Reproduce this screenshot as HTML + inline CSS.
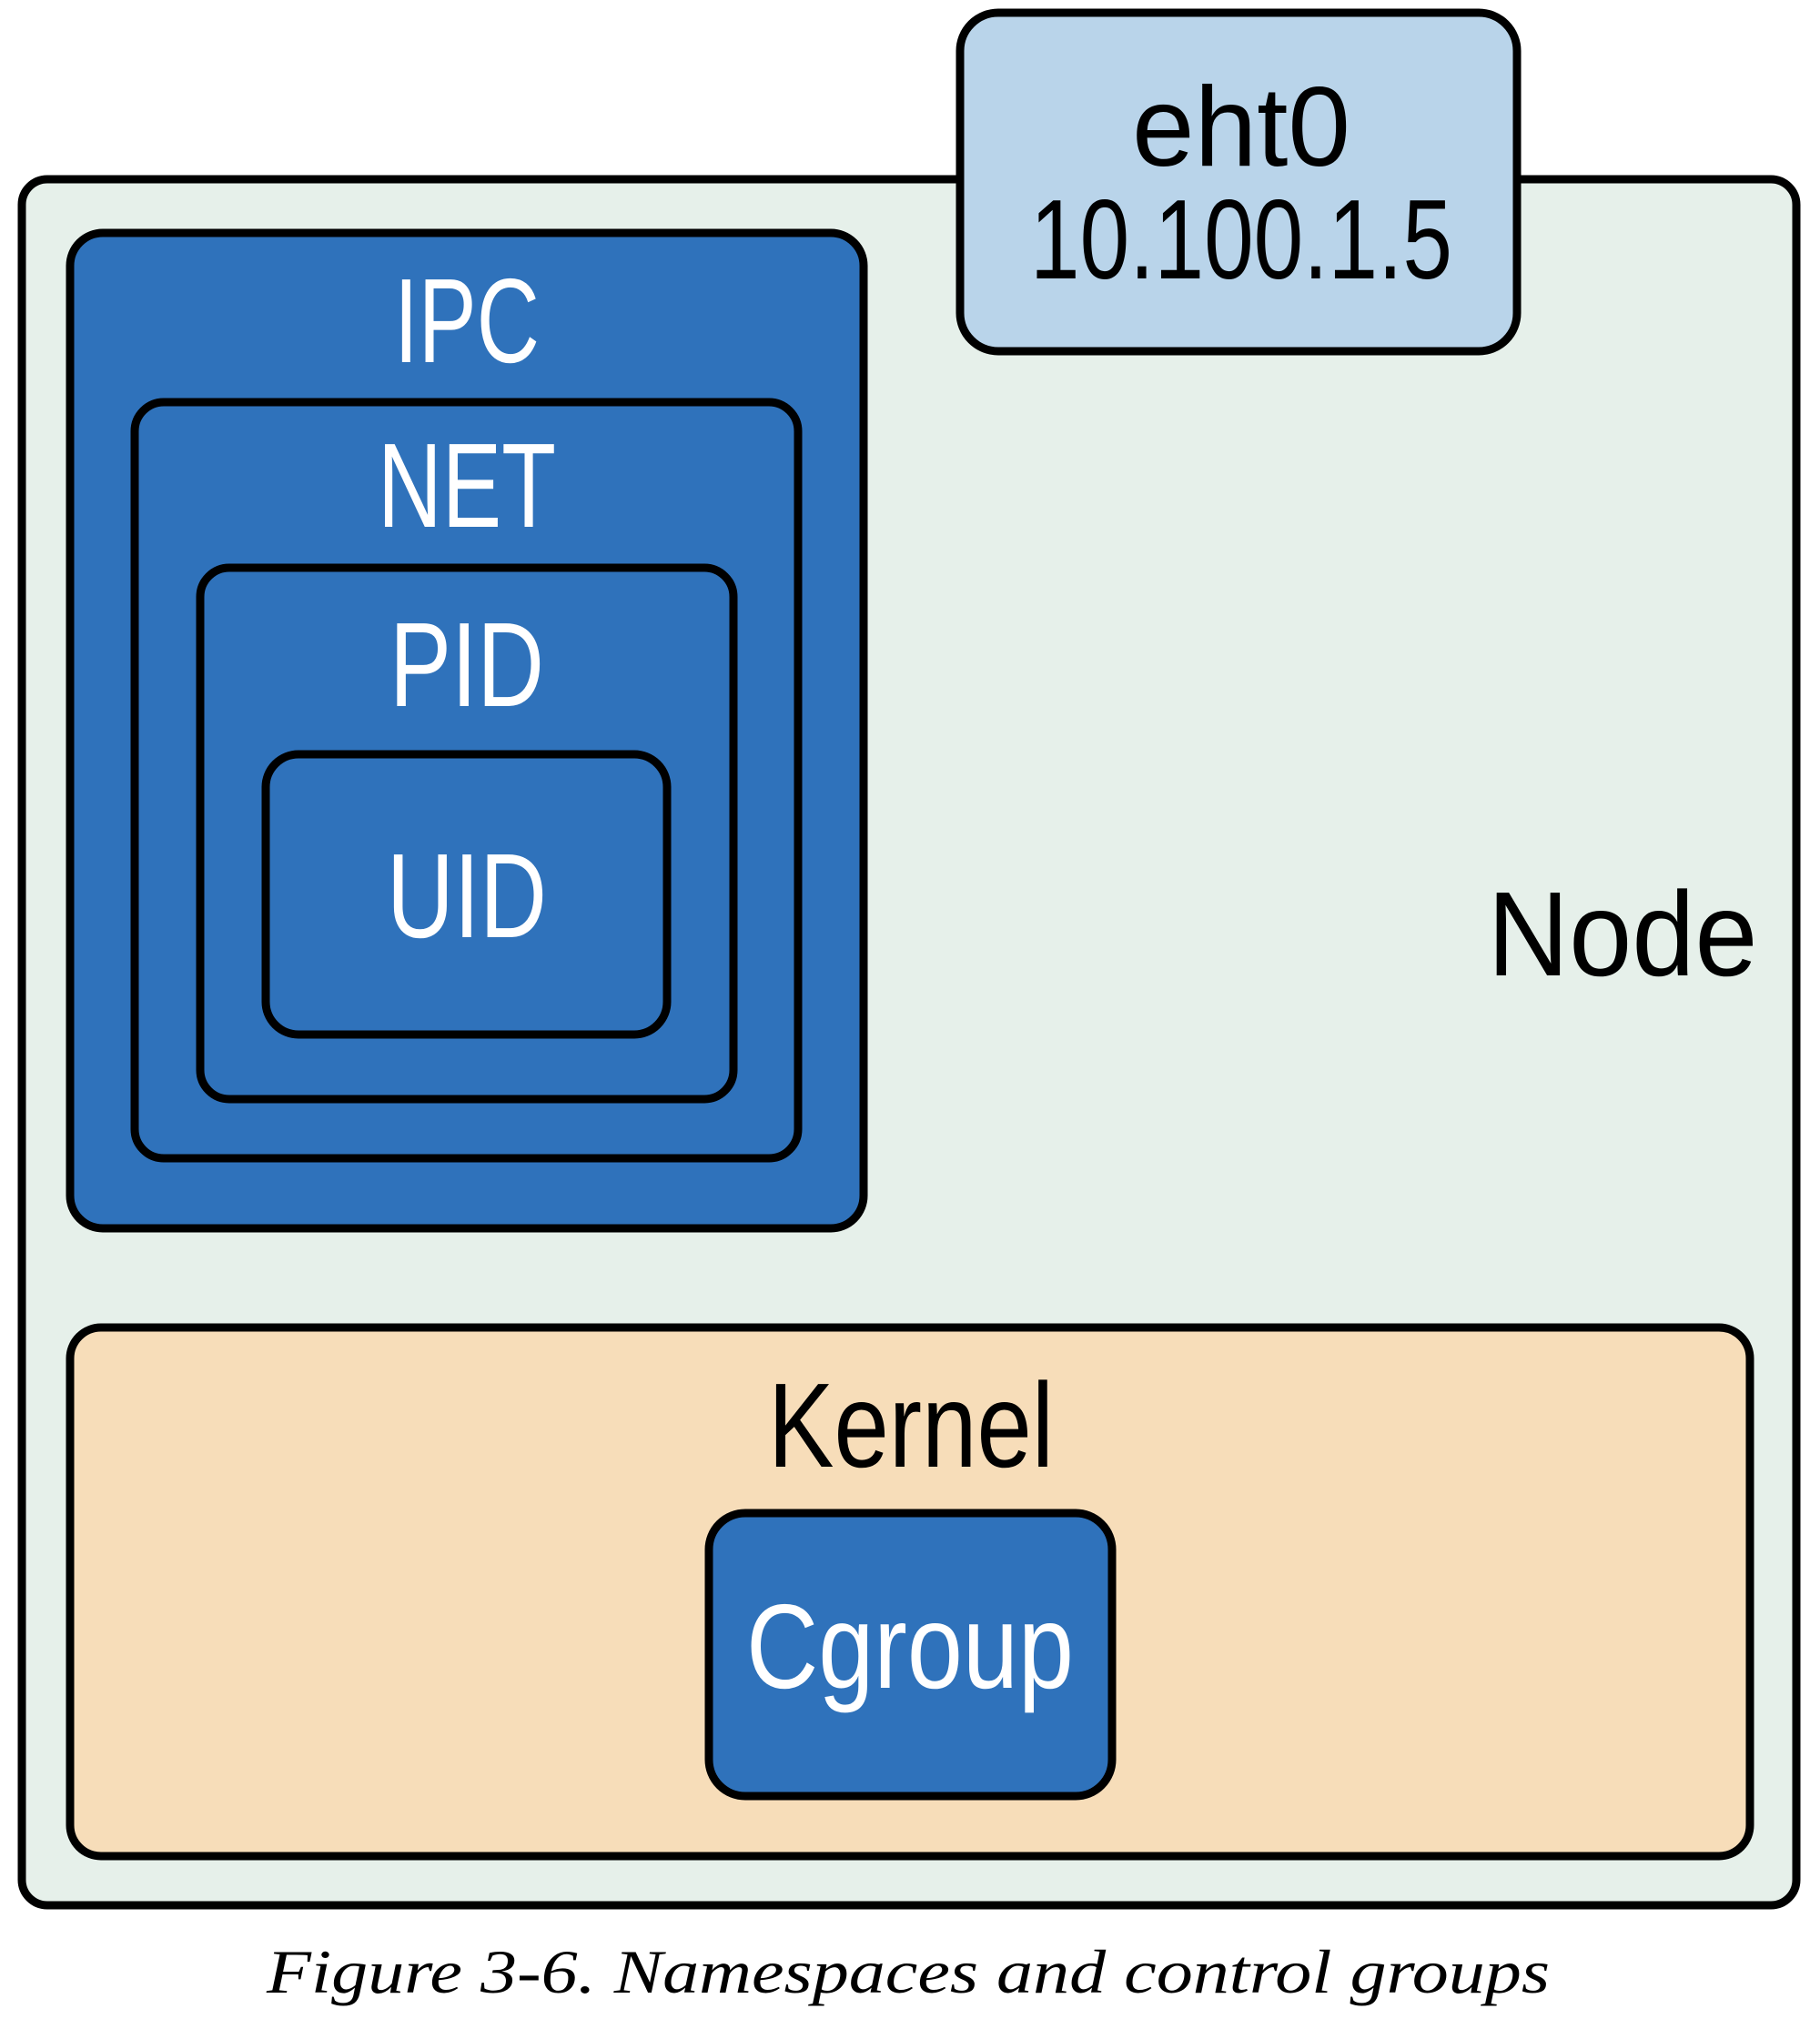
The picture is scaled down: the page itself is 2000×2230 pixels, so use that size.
<!DOCTYPE html>
<html><head><meta charset="utf-8"><style>
html,body{margin:0;padding:0;background:#fff;width:2000px;height:2230px;overflow:hidden}
</style></head><body>
<svg width="2000" height="2230" viewBox="0 0 2000 2230" xmlns="http://www.w3.org/2000/svg">
<g stroke="#000" stroke-width="9">
<rect x="24" y="197" width="1950" height="1897" rx="28" fill="#e6f0ea"/>
<rect x="1055" y="14" width="612" height="372" rx="42" fill="#b9d4ea"/>
<rect x="77" y="256" width="872" height="1094" rx="36" fill="#2f72bb"/>
<rect x="148" y="442" width="729" height="831" rx="32" fill="#2f72bb"/>
<rect x="220" y="624" width="586" height="584" rx="32" fill="#2f72bb"/>
<rect x="292" y="829" width="441" height="308" rx="36" fill="#2f72bb"/>
<rect x="77" y="1459" width="1846" height="581" rx="34" fill="#f7ddb9"/>
<rect x="779" y="1663" width="443" height="311" rx="40" fill="#2f72bb"/>
</g>
<g font-family="Liberation Sans, sans-serif" text-anchor="middle">
<text x="1364" y="182" font-size="124" fill="#000" textLength="240" lengthAdjust="spacingAndGlyphs">eht0</text>
<text x="1364" y="306" font-size="124" fill="#000" textLength="464" lengthAdjust="spacingAndGlyphs">10.100.1.5</text>
<text x="513" y="398" font-size="132" fill="#fff" textLength="160" lengthAdjust="spacingAndGlyphs">IPC</text>
<text x="513" y="579" font-size="132" fill="#fff" textLength="196" lengthAdjust="spacingAndGlyphs">NET</text>
<text x="513" y="776" font-size="132" fill="#fff" textLength="170" lengthAdjust="spacingAndGlyphs">PID</text>
<text x="513" y="1030" font-size="132" fill="#fff" textLength="176" lengthAdjust="spacingAndGlyphs">UID</text>
<text x="1783" y="1072" font-size="132" fill="#000" textLength="297" lengthAdjust="spacingAndGlyphs">Node</text>
<text x="1001" y="1612" font-size="132" fill="#000" textLength="314" lengthAdjust="spacingAndGlyphs">Kernel</text>
<text x="1000" y="1855" font-size="132" fill="#fff" textLength="360" lengthAdjust="spacingAndGlyphs">Cgroup</text>
</g>
<text x="293" y="2190" font-family="Liberation Serif, serif" font-style="italic" font-size="68" fill="#000" textLength="1410" lengthAdjust="spacingAndGlyphs">Figure 3-6. Namespaces and control groups</text>
</svg>
</body></html>
